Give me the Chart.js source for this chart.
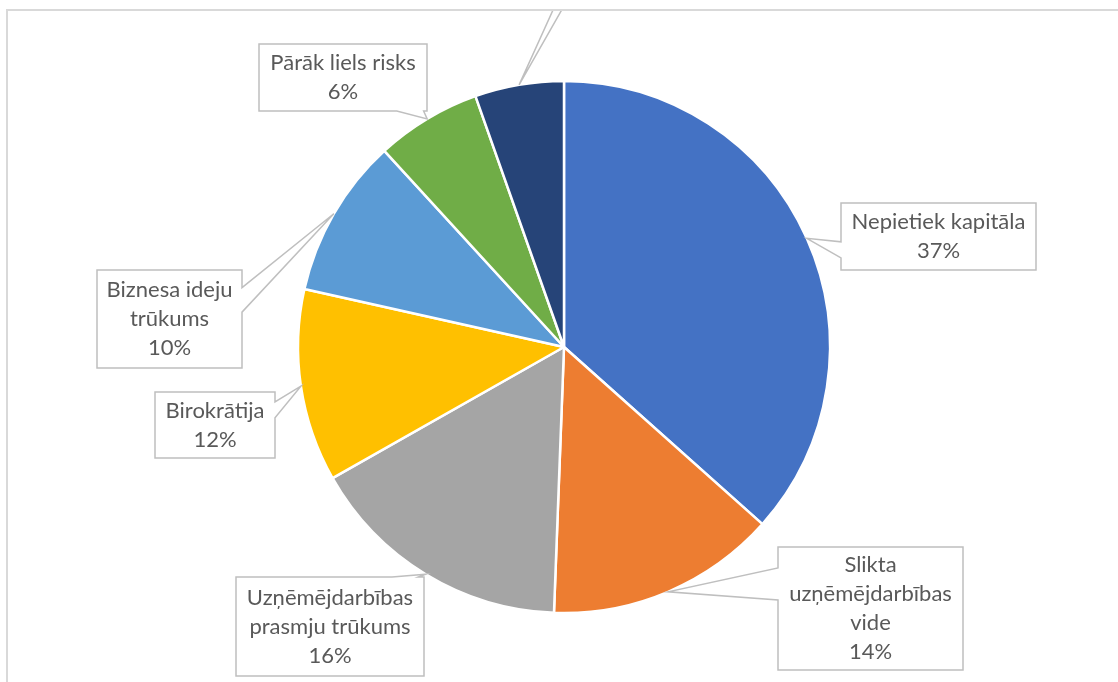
<!DOCTYPE html>
<html>
<head>
<meta charset="utf-8">
<script src="https://cdn.jsdelivr.net/npm/chart.js@4/dist/chart.umd.min.js"></script>
<style>
  html, body { margin: 0; padding: 0; background: #fff; }
  canvas { display: block; }
</style>
</head>
<body>
<canvas id="pie" width="1118" height="682"></canvas>
<script>
const categories = [
    "Nepietiek kapitāla",
    "Slikta uzņēmējdarbības vide",
    "Uzņēmējdarbības prasmju trūkums",
    "Birokrātija",
    "Biznesa ideju trūkums",
    "Pārāk liels risks",
    "Cits"
];
const shares = [36.6, 14.0, 16.2, 11.7, 9.7, 6.4, 5.4];
const colors = ["#4472C4", "#ED7D31", "#A5A5A5", "#FFC000", "#5B9BD5", "#70AD47", "#264478"];

// label boxes (Excel-style callouts): box + side of the wedge + wedge span on that side
const boxes = [
    { x: 841, y: 203, w: 195, h: 67, side: "left", f: [0.58, 0.82] },
    { x: 778, y: 547, w: 185, h: 123, side: "left", f: [0.17, 0.43] },
    { x: 236, y: 577, w: 188, h: 99, side: "top", f: [0.83, 0.97] },
    { x: 155, y: 392, w: 120, h: 66, side: "right", f: [0.15, 0.39] },
    { x: 97, y: 270, w: 145, h: 98, side: "right", f: [0.18, 0.43] },
    { x: 259, y: 44, w: 168, h: 67, side: "bottom", f: [0.82, 0.98] },
    { x: 480, y: -70, w: 180, h: 60, side: "bottom", f: [0.456, 0.517] }
];

const FONT = "22px Lato";
const LINE_H = 29;

function wrap(ctx, text, maxW) {
    const words = text.split(" ");
    const lines = [];
    let cur = "";
    words.forEach((w) => {
        const test = cur ? cur + " " + w : w;
        if (cur && ctx.measureText(test).width > maxW) {
            lines.push(cur);
            cur = w;
        } else {
            cur = test;
        }
    });
    if (cur) lines.push(cur);
    return lines;
}

function calloutPath(ctx, b, tip) {
    const x0 = b.x, y0 = b.y, x1 = b.x + b.w, y1 = b.y + b.h;
    const [f0, f1] = b.f;
    ctx.beginPath();
    ctx.moveTo(x0, y0);
    if (b.side === "top") {
        ctx.lineTo(x0 + b.w * f0, y0);
        ctx.lineTo(tip.x, tip.y);
        ctx.lineTo(x0 + b.w * f1, y0);
    }
    ctx.lineTo(x1, y0);
    if (b.side === "right") {
        ctx.lineTo(x1, y0 + b.h * f0);
        ctx.lineTo(tip.x, tip.y);
        ctx.lineTo(x1, y0 + b.h * f1);
    }
    ctx.lineTo(x1, y1);
    if (b.side === "bottom") {
        ctx.lineTo(x0 + b.w * f1, y1);
        ctx.lineTo(tip.x, tip.y);
        ctx.lineTo(x0 + b.w * f0, y1);
    }
    ctx.lineTo(x0, y1);
    if (b.side === "left") {
        ctx.lineTo(x0, y0 + b.h * f1);
        ctx.lineTo(tip.x, tip.y);
        ctx.lineTo(x0, y0 + b.h * f0);
    }
    ctx.closePath();
}

// plot area frame + callout labels
const calloutPlugin = {
    id: "callouts",
    afterDatasetsDraw(chart) {
        const ctx = chart.ctx;
        const meta = chart.getDatasetMeta(0);
        const total = shares.reduce((a, b) => a + b, 0);

        ctx.save();
        ctx.beginPath();
        ctx.rect(7, 9, chart.width, chart.height);
        ctx.clip();

        meta.data.forEach((arc, i) => {
            const p = arc.getProps(["x", "y", "startAngle", "endAngle", "outerRadius"], true);
            const mid = (p.startAngle + p.endAngle) / 2;
            const tip = { x: p.x + Math.cos(mid) * p.outerRadius, y: p.y + Math.sin(mid) * p.outerRadius };
            const b = boxes[i];

            calloutPath(ctx, b, tip);
            ctx.fillStyle = "#ffffff";
            ctx.fill();
            ctx.strokeStyle = "#bfbfbf";
            ctx.lineWidth = 1.5;
            ctx.lineJoin = "miter";
            ctx.stroke();

            ctx.font = FONT;
            ctx.fillStyle = "#595959";
            ctx.textAlign = "center";
            ctx.textBaseline = "middle";
            const lines = wrap(ctx, categories[i], b.w - 12);
            lines.push(Math.round(shares[i] / total * 100) + "%");
            const cy = b.y + b.h / 2;
            lines.forEach((ln, k) => {
                ctx.fillText(ln, b.x + b.w / 2, cy + (k - (lines.length - 1) / 2) * LINE_H);
            });
        });
        ctx.restore();

        // plot area border (left + top visible)
        ctx.save();
        ctx.strokeStyle = "#d9d9d9";
        ctx.lineWidth = 2;
        ctx.beginPath();
        ctx.moveTo(7, chart.height);
        ctx.lineTo(7, 10);
        ctx.lineTo(chart.width, 10);
        ctx.stroke();
        ctx.restore();
    }
};

new Chart(document.getElementById("pie"), {
    type: "pie",
    data: {
        labels: categories,
        datasets: [{
            data: shares,
            backgroundColor: colors,
            borderColor: "#ffffff",
            borderWidth: 2.5,
            radius: 266
        }]
    },
    options: {
        responsive: false,
        animation: false,
        layout: { padding: { left: 10, right: 0, top: 12, bottom: 0 } },
        plugins: {
            legend: { display: false },
            tooltip: { enabled: false }
        }
    },
    plugins: [calloutPlugin]
});
</script>
</body>
</html>
